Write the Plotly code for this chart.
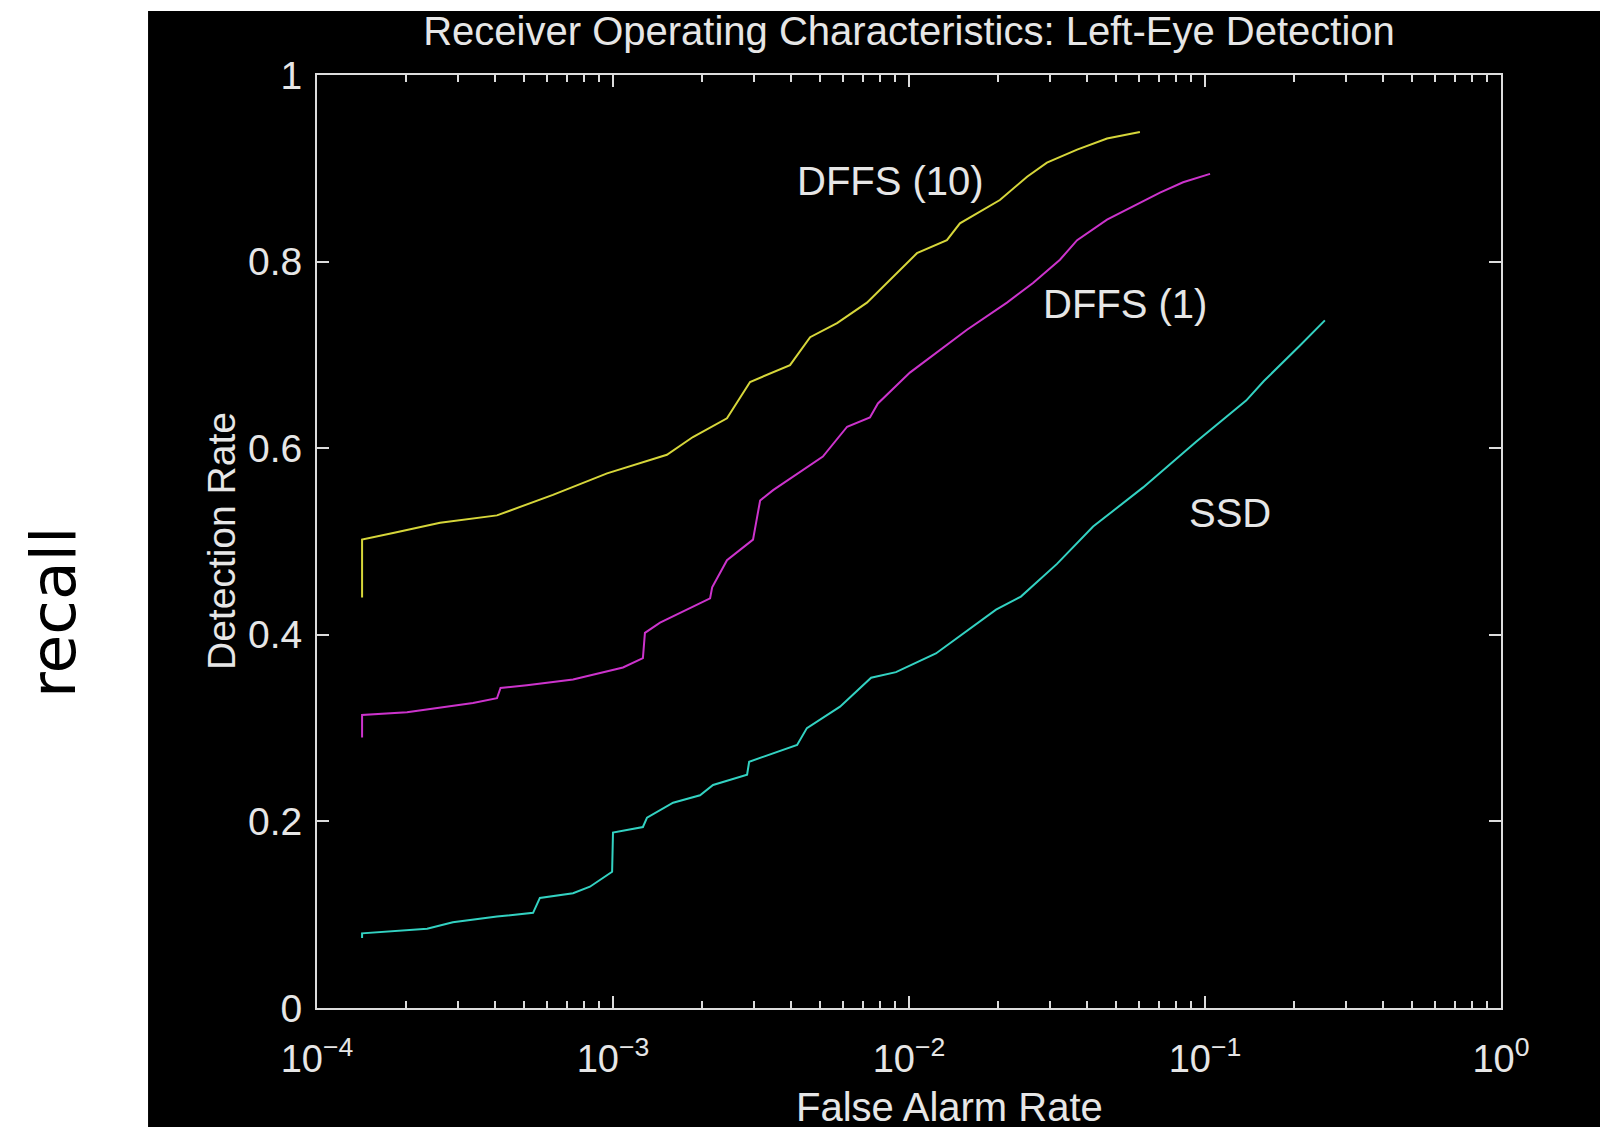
import plotly.graph_objects as go

# ---------------- data ----------------
dffs10_far = [1.42e-4, 1.42e-4, 1.807e-4, 2.606e-4, 4.055e-4, 6.266e-4, 9.55e-4, 1.521e-3,
              1.862e-3, 2.427e-3, 2.904e-3, 3.963e-3, 4.634e-3, 5.715e-3, 7.21e-3, 8.43e-3,
              1.064e-2, 1.343e-2, 1.486e-2, 2.028e-2, 2.506e-2, 2.924e-2, 3.698e-2, 4.667e-2,
              6.026e-2]
dffs10_det = [0.440, 0.502, 0.509, 0.520, 0.528, 0.550, 0.573, 0.593,
              0.612, 0.632, 0.671, 0.689, 0.719, 0.734, 0.756, 0.777,
              0.809, 0.823, 0.841, 0.866, 0.891, 0.906, 0.920, 0.932,
              0.939]

dffs1_far = [1.42e-4, 1.42e-4, 2.014e-4, 3.365e-4, 4.055e-4, 4.169e-4, 5.117e-4, 7.328e-4,
             1.081e-3, 1.262e-3, 1.282e-3, 1.442e-3, 2.128e-3, 2.163e-3, 2.427e-3, 2.972e-3,
             3.141e-3, 3.475e-3, 5.117e-3, 6.180e-3, 7.379e-3, 7.852e-3, 1.007e-2, 1.274e-2,
             1.570e-2, 2.143e-2, 2.624e-2, 3.236e-2, 3.698e-2, 4.667e-2, 5.715e-2, 7.047e-2,
             8.433e-2, 0.1040]
dffs1_det = [0.290, 0.314, 0.317, 0.327, 0.332, 0.343, 0.346, 0.352,
             0.365, 0.375, 0.402, 0.413, 0.439, 0.451, 0.480, 0.502,
             0.544, 0.555, 0.591, 0.623, 0.633, 0.648, 0.681, 0.705,
             0.727, 0.756, 0.777, 0.802, 0.823, 0.845, 0.859, 0.874,
             0.885, 0.894]

ssd_far = [1.42e-4, 1.42e-4, 2.355e-4, 2.877e-4, 4.055e-4, 5.370e-4, 5.662e-4, 7.328e-4,
           8.356e-4, 9.931e-4, 1.000e-3, 1.262e-3, 1.303e-3, 1.596e-3, 1.968e-3, 2.178e-3,
           2.838e-3, 2.884e-3, 4.188e-3, 4.519e-3, 5.848e-3, 7.447e-3, 9.036e-3, 1.233e-2,
           1.968e-2, 2.388e-2, 3.162e-2, 4.188e-2, 6.180e-2, 9.333e-2, 0.1377, 0.1581,
           0.2094, 0.2541]
ssd_det = [0.075, 0.080, 0.085, 0.092, 0.098, 0.102, 0.118, 0.123,
           0.130, 0.146, 0.188, 0.194, 0.204, 0.220, 0.228, 0.239,
           0.250, 0.264, 0.282, 0.300, 0.323, 0.354, 0.360, 0.380,
           0.427, 0.441, 0.476, 0.516, 0.558, 0.607, 0.651, 0.672,
           0.710, 0.737]

series_names = ["DFFS (10)", "DFFS (1)", "SSD"]
series_colors = ["#d6d63a", "#cc33cc", "#33d2c2"]
# label positions (log10 of false alarm rate, detection rate)
label_logx = [-2.064, -1.270, -0.916]
label_y = [0.886, 0.755, 0.531]

x_tickvals = [1e-4, 1e-3, 1e-2, 1e-1, 1]
x_ticktext = ["10<sup>−4</sup>", "10<sup>−3</sup>", "10<sup>−2</sup>", "10<sup>−1</sup>", "10<sup>0</sup>"]
x_minor = [m * 10.0 ** e for e in (-4, -3, -2, -1) for m in range(2, 10)]
y_tickvals = [0, 0.2, 0.4, 0.6, 0.8, 1]
y_ticktext = ["0", "0.2", "0.4", "0.6", "0.8", "1"]

title_text = "Receiver Operating Characteristics: Left-Eye Detection"
x_title = "False Alarm Rate"
y_title = "Detection Rate"
outer_label = "recall"

# ---------------- figure ----------------
FONT = "Liberation Sans, Arial, sans-serif"
TXT = "#e6e6e6"
AX = "#dcdcdc"

fig = go.Figure()
for xs, ys, name, col in zip([dffs10_far, dffs1_far, ssd_far],
                             [dffs10_det, dffs1_det, ssd_det],
                             series_names, series_colors):
    fig.add_trace(go.Scatter(x=xs, y=ys, mode="lines", name=name,
                             line=dict(color=col, width=2), showlegend=False))

for name, lx, ly in zip(series_names, label_logx, label_y):
    fig.add_annotation(x=lx, y=ly, xref="x", yref="y", text=name, showarrow=False,
                       font=dict(family=FONT, size=40, color=TXT))

# black backdrop behind the whole gnuplot image
fig.add_shape(type="rect", xref="paper", yref="paper", x0=-0.1427, x1=1.2, y0=-0.3, y1=1.0686,
              fillcolor="black", line=dict(width=0), layer="below")

fig.add_annotation(x=0.5346, y=-0.1061, xref="paper", yref="paper", text=x_title, showarrow=False,
                   font=dict(family=FONT, size=40, color=TXT), xanchor="center", yanchor="middle")
fig.add_annotation(x=-0.0811, y=0.5005, xref="paper", yref="paper", text=y_title, showarrow=False,
                   textangle=-90, font=dict(family=FONT, size=39, color=TXT),
                   xanchor="center", yanchor="middle")
fig.add_annotation(x=-0.223, y=0.4244, xref="paper", yref="paper", text=outer_label, showarrow=False,
                   textangle=-90, font=dict(family="DejaVu Sans, sans-serif", size=63, color="#000000"),
                   xanchor="center", yanchor="middle")

fig.update_layout(
    width=1600, height=1127,
    margin=dict(l=317, r=99, t=75, b=119),
    paper_bgcolor="white", plot_bgcolor="black",
    title=dict(text=title_text, x=0.5, xref="paper", xanchor="center",
               y=1 - 31 / 1127, yref="container", yanchor="middle",
               font=dict(family=FONT, size=40, color=TXT)),
    xaxis=dict(type="log", range=[-4, 0], tickmode="array", tickvals=x_tickvals, ticktext=x_ticktext,
               showgrid=False, zeroline=False, showline=True, linecolor=AX, linewidth=2,
               mirror="allticks", ticks="inside", ticklen=12, tickwidth=2, tickcolor=AX,
               tickfont=dict(family=FONT, size=38, color=TXT), ticklabelstandoff=16,
               minor=dict(tickmode="array", tickvals=x_minor, ticks="inside", ticklen=7,
                          tickwidth=2, tickcolor=AX, showgrid=False)),
    yaxis=dict(range=[0, 1], tickmode="array", tickvals=y_tickvals, ticktext=y_ticktext,
               showgrid=False, zeroline=False, showline=True, linecolor=AX, linewidth=2,
               mirror="allticks", ticks="inside", ticklen=12, tickwidth=2, tickcolor=AX,
               tickfont=dict(family=FONT, size=39, color=TXT), ticklabelstandoff=5),
)

fig.write_html("out.html", config={"displayModeBar": False},
               post_script="document.body.style.margin='0';")
